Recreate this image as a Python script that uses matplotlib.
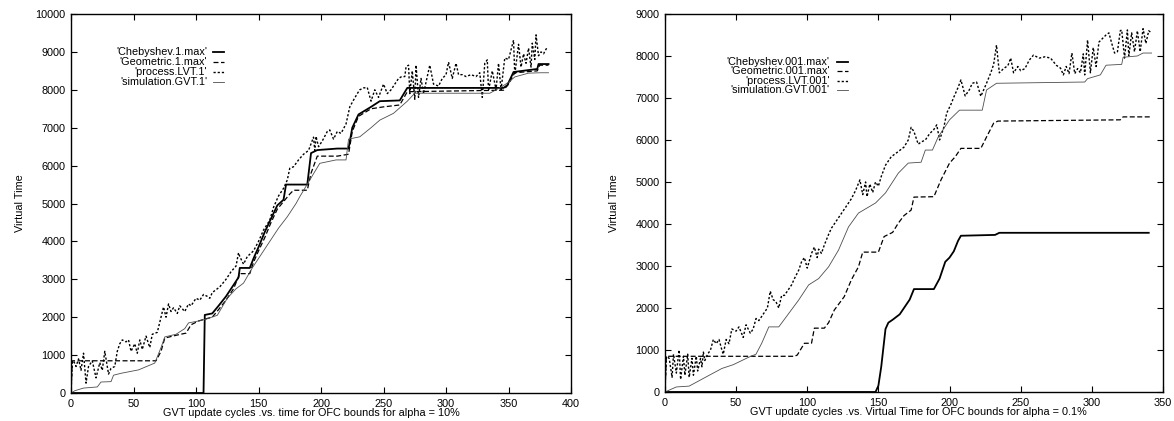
import matplotlib
matplotlib.use("Agg")
import matplotlib.pyplot as plt

plt.rcParams['font.family'] = ['Liberation Sans', 'DejaVu Sans']

# ---------------- Left chart (alpha = 10%) ----------------
cheb1_x = [0, 106, 107, 113, 118, 124, 130, 134, 135, 143, 146, 150, 155, 160, 165, 170, 172, 178, 189, 192,
           197, 213, 222, 225, 230, 240, 247, 263, 269, 346, 349, 354, 373, 374, 382]
cheb1_v = [0, 0, 2060, 2100, 2300, 2550, 2850, 3050, 3300, 3300, 3550, 3850, 4250, 4600, 4950, 5100, 5500, 5500,
           5500, 6330, 6410, 6450, 6450, 7000, 7350, 7550, 7700, 7720, 8050, 8050, 8120, 8470, 8550, 8680, 8680]

geom1_x = [0, 1, 68, 72, 75, 85, 92, 96, 102, 107, 113, 118, 124, 130, 135, 143, 146, 150, 155, 160, 165, 170, 175,
           178, 189, 192, 197, 213, 222, 225, 230, 240, 250, 263, 269, 346, 350, 355, 373, 375, 382]
geom1_v = [0, 850, 850, 1100, 1450, 1530, 1580, 1800, 1900, 1950, 2000, 2200, 2450, 2750, 3150, 3150, 3450, 3750, 4100,
           4500, 4850, 5050, 5250, 5350, 5350, 5800, 6250, 6250, 6300, 6900, 7300, 7500, 7550, 7600, 7950, 7990, 8150,
           8450, 8500, 8650, 8650]

lvt1_x = [0, 1, 2, 4, 6, 8, 10, 12, 14, 17, 20, 23, 25, 27, 30, 32, 35, 37, 39, 41, 44, 46, 48, 51, 53, 55, 57, 60,
          63, 65, 69, 72, 74, 76, 78, 80, 82, 85, 87, 91, 94, 96, 100, 103, 106, 109, 111, 113, 115, 119, 124, 128,
          132, 134, 135, 138, 141, 146, 150, 154, 159, 162, 166, 170, 173, 175, 178, 182, 186, 190, 194, 195, 196,
          198, 201, 205, 207, 210, 213, 216, 220, 223, 226, 229, 231, 234, 237, 240, 243, 246, 250, 253, 256, 260,
          262, 264, 267, 268, 270, 271, 273, 275, 276, 278, 280, 282, 284, 287, 290, 294, 297, 300, 302, 305, 308,
          310, 313, 316, 320, 324, 327, 329, 331, 333, 334, 337, 340, 342, 344, 347, 350, 352, 354, 355, 358, 360,
          362, 364, 366, 368, 369, 371, 372, 374, 376, 378, 381]
lvt1_v = [0, 800, 850, 700, 900, 600, 1050, 260, 700, 850, 400, 800, 600, 1100, 500, 650, 700, 1100, 1300, 1400,
          1350, 1400, 1100, 1300, 1050, 1400, 1150, 1500, 1200, 1550, 1600, 2000, 2270, 2000, 2350, 2150, 2250, 2100,
          2300, 2150, 2350, 2300, 2500, 2450, 2600, 2550, 2500, 2650, 2700, 2800, 3000, 3200, 3350, 3700, 3600, 3400,
          3600, 3750, 4000, 4300, 4560, 4900, 5200, 5400, 5620, 5930, 5970, 6150, 6300, 6400, 6750, 6400, 6770, 6500,
          6650, 6900, 6940, 6700, 6900, 6850, 7100, 7550, 7730, 7900, 8000, 8050, 8060, 7700, 8000, 7800, 8150, 7900,
          8000, 8200, 8300, 8340, 8350, 8600, 8650, 7900, 8500, 7750, 8650, 7800, 8300, 7900, 8200, 8650, 8150, 8100,
          8300, 8400, 8730, 8300, 8700, 8400, 8400, 8350, 8400, 8350, 8450, 7800, 8700, 8790, 7980, 8500, 8000, 8700,
          8000, 8840, 8800, 9050, 9310, 8400, 9200, 8600, 8950, 8700, 9100, 8600, 9230, 8800, 9450, 8900, 9000, 8950,
          9130]

sim1_x = [0, 3, 10, 21, 24, 32, 34, 40, 54, 67, 72, 75, 84, 91, 94, 102, 108, 117, 125, 132, 138, 145, 152, 159,
          166, 173, 180, 183, 191, 199, 212, 220, 222, 231, 240, 247, 258, 269, 275, 335, 340, 344, 350, 355, 366,
          376, 382]
sim1_v = [0, 60, 130, 160, 290, 300, 470, 520, 610, 790, 1200, 1480, 1550, 1700, 1850, 1900, 1950, 2050, 2500, 2750,
          2900, 3300, 3650, 4000, 4350, 4650, 5000, 5180, 5620, 6060, 6150, 6150, 6700, 6760, 7000, 7200, 7380, 7700,
          7910, 7910, 8000, 8070, 8200, 8340, 8440, 8450, 8450]

# ---------------- Right chart (alpha = 0.1%) ----------------
cheb001_x = [0, 148, 150, 152, 155, 157, 160, 165, 168, 172, 175, 189, 193, 197, 200, 203, 206, 208, 232, 235, 340]
cheb001_v = [0, 0, 150, 600, 1500, 1650, 1720, 1850, 2000, 2200, 2450, 2450, 2700, 3100, 3200, 3350, 3600, 3720,
             3740, 3790, 3790]

geom001_x = [0, 1, 91, 93, 98, 103, 105, 112, 115, 119, 126, 131, 136, 139, 150, 154, 160, 164, 168, 173, 175, 189,
             194, 200, 204, 208, 222, 226, 231, 234, 320, 322, 342]
geom001_v = [0, 850, 850, 880, 1160, 1160, 1520, 1520, 1650, 1950, 2270, 2670, 2980, 3330, 3330, 3700, 3800, 4020,
             4200, 4330, 4640, 4650, 5050, 5450, 5600, 5800, 5800, 6070, 6400, 6450, 6480, 6550, 6550]

lvt001_x = [0, 1, 3, 5, 6, 8, 10, 11, 13, 14, 16, 17, 19, 20, 22, 23, 25, 26, 27, 28, 30, 32, 34, 36, 38, 40, 41,
            43, 45, 47, 50, 52, 55, 57, 60, 62, 64, 66, 68, 70, 72, 74, 76, 78, 80, 82, 84, 87, 89, 91, 94, 96, 98,
            100, 103, 105, 107, 108, 110, 112, 115, 117, 120, 123, 126, 128, 131, 134, 137, 139, 141, 142, 144, 146,
            148, 150, 152, 155, 159, 163, 168, 171, 173, 175, 178, 180, 183, 186, 189, 191, 193, 196, 198, 201, 203,
            206, 208, 211, 214, 216, 219, 222, 226, 229, 231, 233, 235, 238, 241, 243, 245, 248, 250, 253, 256, 259,
            263, 267, 271, 275, 278, 280, 282, 284, 286, 288, 290, 292, 294, 295, 297, 299, 301, 303, 305, 307, 310,
            312, 314, 316, 318, 320, 321, 323, 325, 326, 328, 330, 332, 334, 336, 338, 340, 342]
lvt001_v = [0, 850, 800, 350, 900, 450, 1000, 300, 850, 400, 900, 350, 800, 400, 850, 500, 800, 600, 950, 750, 900,
            1000, 1250, 1150, 1250, 1000, 900, 1250, 1150, 1500, 1450, 1550, 1300, 1600, 1400, 1500, 1750, 1700, 1800,
            1900, 2000, 2400, 2200, 2150, 2000, 2300, 2300, 2450, 2550, 2700, 2900, 3100, 3200, 2950, 3300, 3450, 3200,
            3400, 3300, 3500, 3750, 3900, 4050, 4200, 4350, 4450, 4600, 4800, 5050, 4700, 5000, 4650, 4950, 4750, 5000,
            4900, 5130, 5400, 5600, 5700, 5830, 6000, 6300, 6200, 5900, 5950, 6000, 6150, 6250, 6360, 6000, 6300, 6640,
            6850, 7020, 7250, 7430, 7050, 7200, 7350, 7380, 7040, 7350, 7600, 7800, 8260, 7600, 7700, 7770, 7950, 7600,
            7750, 7650, 7700, 7900, 8020, 7950, 7980, 7950, 7780, 7710, 7550, 7750, 7580, 8070, 7580, 7700, 7600, 8050,
            7550, 8380, 7600, 8200, 7750, 8330, 8400, 8500, 8550, 8300, 8070, 8100, 8600, 8620, 7950, 8620, 8000, 8550,
            8100, 8600, 8100, 8650, 8300, 8600, 8550]

sim001_x = [0, 8, 17, 29, 40, 48, 59, 64, 68, 73, 80, 87, 94, 101, 108, 115, 122, 129, 136, 148, 155, 164, 171, 180,
            183, 188, 192, 200, 207, 223, 226, 233, 295, 297, 301, 306, 310, 321, 322, 332, 336, 342]
sim001_v = [0, 120, 140, 360, 560, 650, 830, 900, 1160, 1550, 1550, 1870, 2190, 2550, 2700, 2980, 3380, 3930, 4260,
            4500, 4740, 5210, 5450, 5470, 5760, 5760, 6070, 6480, 6710, 6710, 7190, 7350, 7380, 7460, 7500, 7550, 7780,
            7800, 7970, 8000, 8070, 8070]

left_labels = ["'Chebyshev.1.max'", "'Geometric.1.max'", "'process.LVT.1'", "'simulation.GVT.1'"]
right_labels = ["'Chebyshev.001.max'", "'Geometric.001.max'", "'process.LVT.001'", "'simulation.GVT.001'"]

styles = [
    dict(color='black', lw=1.3, ls='-'),
    dict(color='black', lw=0.9, ls=(0, (4, 2))),
    dict(color='black', lw=1.0, ls=(0, (1.6, 1.4))),
    dict(color='0.3', lw=0.6, ls='-'),
]

FS = 7.8
fig = plt.figure(figsize=(11.74, 4.21), dpi=100)
axL = fig.add_axes([0.0605, 0.0665, 0.4259, 0.9002])
axR = fig.add_axes([0.5664, 0.0689, 0.4242, 0.8979])


def draw(ax, series, labels, xmax, ymax, xlabel, xlab_x, leg_x_text, leg_x0, leg_x1, leg_ys):
    for (xs, vs), st in zip(series, styles):
        ax.plot(xs, vs, **st)
    ax.set_xlim(0, xmax)
    ax.set_ylim(0, ymax)
    ax.set_xticks(range(0, xmax + 1, 50))
    ax.set_yticks(range(0, ymax + 1, 1000))
    ax.tick_params(direction='in', length=4, width=0.8, top=True, right=True,
                   labelsize=FS, pad=4)
    for sp in ax.spines.values():
        sp.set_linewidth(1.0)
    ax.set_ylabel('Virtual Time', fontsize=FS)
    ax.yaxis.set_label_coords(-0.092, 0.5)
    ax.set_xlabel(xlabel, fontsize=FS)
    ax.xaxis.set_label_coords(xlab_x, -0.04)
    for lab, st, yy in zip(labels, styles, leg_ys):
        ax.text(leg_x_text, yy, lab, transform=ax.transAxes, ha='right', va='center', fontsize=FS)
        ax.plot([leg_x0, leg_x1], [yy, yy], transform=ax.transAxes, **st)


draw(axL, [(cheb1_x, cheb1_v), (geom1_x, geom1_v), (lvt1_x, lvt1_v), (sim1_x, sim1_v)], left_labels,
     400, 10000, 'GVT update cycles .vs. time for OFC bounds for alpha = 10%', 0.48,
     0.272, 0.284, 0.306, [0.899, 0.873, 0.847, 0.821])
draw(axR, [(cheb001_x, cheb001_v), (geom001_x, geom001_v), (lvt001_x, lvt001_v), (sim001_x, sim001_v)], right_labels,
     350, 9000, 'GVT update cycles .vs. Virtual Time for OFC bounds for alpha = 0.1%', 0.508,
     0.331, 0.345, 0.367, [0.872, 0.848, 0.824, 0.800])

fig.savefig('out.png', dpi=100)
